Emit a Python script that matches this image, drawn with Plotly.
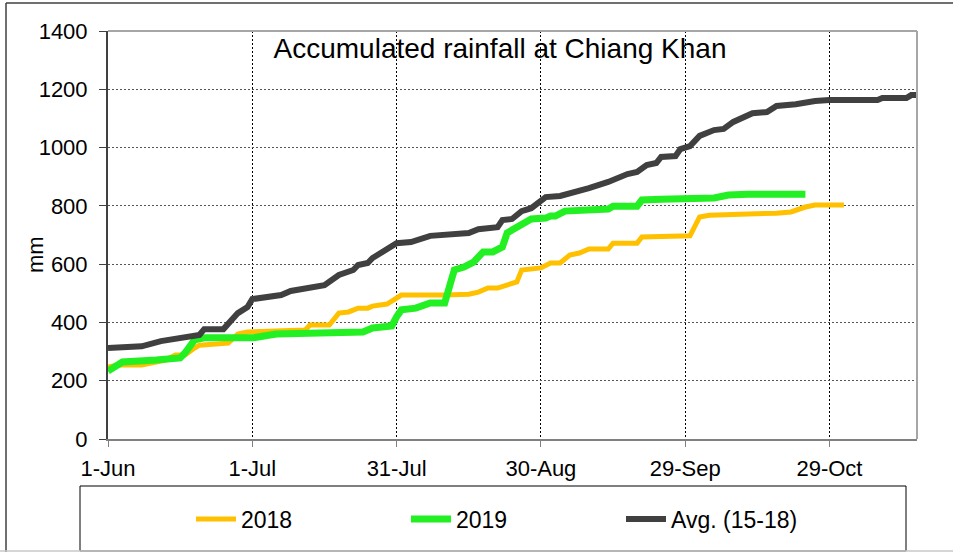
import plotly.graph_objects as go

W, H = 953, 552
PL, PR, PT, PB = 108, 917, 31, 439  # plot-area edges in pixels

# ---- data (days since 1 June, accumulated rainfall in mm) ----
tick_days = [0, 30, 60, 90, 120, 150]
tick_labels = ["1-Jun", "1-Jul", "31-Jul", "30-Aug", "29-Sep", "29-Oct"]

days_2018 = [0, 2, 7, 9, 12, 14, 16, 18, 19, 25, 27, 29, 41, 42, 46, 48, 50, 52, 54, 55,
             58, 59, 61, 70, 75, 77, 79, 81, 84, 85, 86, 90, 92, 94, 96, 98, 100, 104,
             105, 110, 111, 115, 121, 123, 125, 139, 142, 145, 147, 153]
rain_2018 = [247, 254, 254, 261, 271, 288, 288, 312, 322, 329, 360, 367, 374, 391, 391, 432,
             436, 449, 449, 456, 463, 473, 494, 494, 497, 504, 518, 518, 535, 539, 580, 587,
             604, 604, 631, 638, 652, 652, 672, 672, 693, 693, 697, 762, 768, 775, 779, 796,
             803, 803]

days_2019 = [0, 1, 3, 10, 15, 16, 18, 20, 30, 35, 42, 53, 55, 59, 60, 61, 64, 67, 70, 71,
             72, 74, 76, 78, 80, 82, 83, 84, 86, 87, 88, 91, 92, 93, 95, 104, 105, 110,
             111, 115, 126, 129, 133, 145]
rain_2019 = [233, 244, 264, 271, 278, 295, 340, 347, 347, 360, 364, 367, 381, 388, 419, 443,
             449, 467, 467, 522, 580, 590, 607, 642, 642, 659, 707, 717, 734, 745, 755, 758,
             765, 765, 782, 789, 799, 799, 820, 823, 827, 837, 840, 840]

days_avg = [0, 7, 11, 15, 19, 20, 24, 27, 29, 30, 33, 36, 38, 42, 45, 48, 51, 52, 54, 55,
            58, 60, 63, 66, 67, 75, 77, 81, 82, 84, 86, 88, 91, 94, 98, 100, 104, 108, 110,
            112, 114, 115, 118, 119, 121, 123, 126, 128, 130, 134, 137, 139, 143, 147, 150,
            160, 161, 166, 167, 168.2]
rain_avg = [312, 318, 336, 347, 357, 377, 377, 432, 453, 480, 487, 494, 508, 522, 528, 563,
            580, 597, 604, 621, 655, 672, 676, 690, 697, 707, 720, 727, 751, 755, 782, 792,
            830, 834, 851, 861, 882, 909, 916, 940, 947, 968, 971, 995, 1005, 1040, 1060,
            1064, 1088, 1118, 1122, 1143, 1149, 1160, 1163, 1163, 1170, 1170, 1180, 1180]

series = [
    ("2018", days_2018, rain_2018, "#FFC000", 5),
    ("2019", days_2019, rain_2019, "#22F022", 7),
    ("Avg. (15-18)", days_avg, rain_avg, "#404040", 6),
]

FONT = "Liberation Sans, Arial, sans-serif"


def px(x):
    return (x - PL) / (PR - PL)


def py(y):
    return (PB - y) / (PB - PT)


fig = go.Figure()
for name, d, v, col, w in series:
    fig.add_trace(go.Scatter(x=d, y=v, mode="lines", name=name,
                             line=dict(color=col, width=w)))

fig.update_layout(
    width=W, height=H, autosize=False,
    margin=dict(l=PL, r=W - PR, t=PT, b=H - PB, autoexpand=False),
    paper_bgcolor="white", plot_bgcolor="white",
    font=dict(family=FONT, size=22, color="black"),
    title=dict(text="Accumulated rainfall at Chiang Khan",
               font=dict(family=FONT, size=28, color="black"),
               xref="paper", x=px(500), xanchor="center",
               yref="container", y=1 - 48 / H, yanchor="middle"),
    showlegend=True,
    legend=dict(orientation="h", x=px(191), y=py(519), xanchor="left", yanchor="middle",
                bgcolor="rgba(0,0,0,0)", font=dict(family=FONT, size=23),
                entrywidth=160, entrywidthmode="pixels", itemwidth=40),
    annotations=[dict(text="mm", textangle=-90, xref="paper", yref="paper",
                      x=px(35), y=py(255), xanchor="center", yanchor="middle",
                      showarrow=False, font=dict(family=FONT, size=22, color="black"))],
)

fig.update_xaxes(range=[0, 168.2], tickmode="array", tickvals=tick_days, ticktext=tick_labels,
                 showgrid=True, gridcolor="#000000", gridwidth=1, griddash="2px,2px",
                 showline=True, linecolor="#808080", linewidth=2,
                 ticks="outside", ticklen=6, tickcolor="#808080", tickwidth=1,
                 ticklabelstandoff=3, zeroline=False, tickfont=dict(size=22), automargin=False)
fig.update_yaxes(range=[0, 1400], dtick=200, tick0=0,
                 showgrid=True, gridcolor="#555555", gridwidth=1, griddash="2px,2px",
                 showline=True, linecolor="#404040", linewidth=2,
                 ticks="outside", ticklen=7, tickcolor="#404040", tickwidth=1,
                 ticklabelstandoff=7, zeroline=False, tickfont=dict(size=22), automargin=False)

shapes = [
    # plot frame top/right
    dict(type="line", xref="paper", yref="paper", x0=0, x1=1, y0=1, y1=1,
         line=dict(color="#A6A6A6", width=2)),
    dict(type="line", xref="paper", yref="paper", x0=1, x1=1, y0=0, y1=1,
         line=dict(color="#A6A6A6", width=2)),
    # legend box
    dict(type="rect", xref="paper", yref="paper", x0=px(80), x1=px(906), y0=py(551), y1=py(486),
         line=dict(color="#000000", width=1)),
    # outer chart border
    dict(type="line", xref="paper", yref="paper", x0=px(6), x1=px(6), y0=py(3), y1=py(560),
         line=dict(color="#404040", width=1.5)),
    dict(type="line", xref="paper", yref="paper", x0=px(6), x1=px(960), y0=py(3), y1=py(3),
         line=dict(color="#404040", width=1.5)),
    dict(type="line", xref="paper", yref="paper", x0=px(0), x1=px(960), y0=py(551), y1=py(551),
         line=dict(color="#C8C8C8", width=1.5)),
]
fig.update_layout(shapes=shapes)

fig.write_html("out.html", config={"displayModeBar": False},
               post_script="document.body.style.margin='0';document.body.style.overflow='hidden';")
